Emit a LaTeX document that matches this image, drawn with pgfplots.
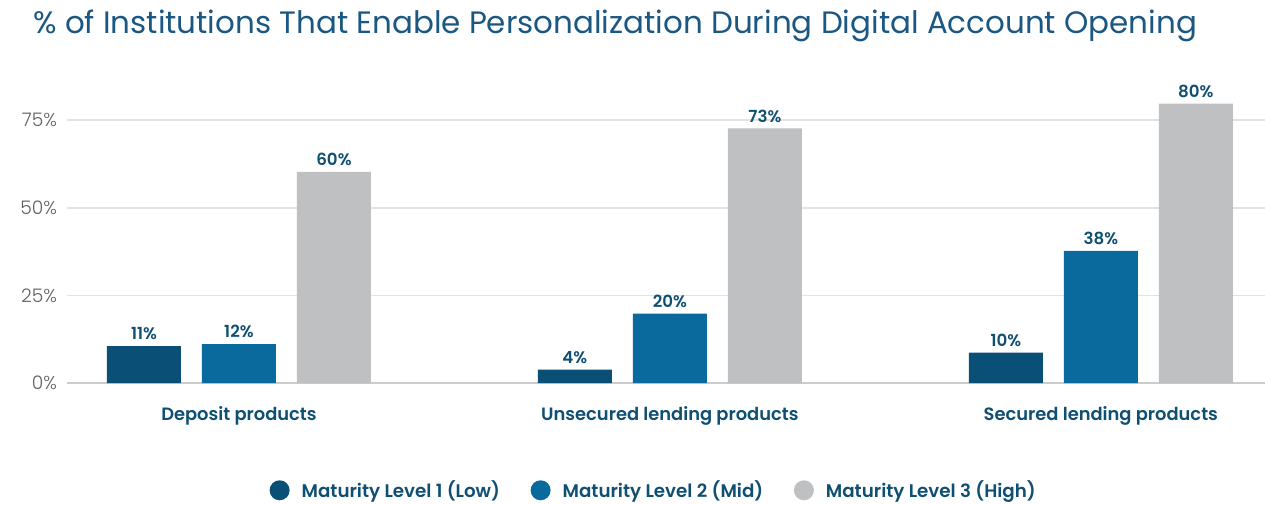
\documentclass[border=0pt]{standalone}
\usepackage{pgfplots}
\pgfplotsset{compat=1.18}
\usepackage{fontspec}
\setmainfont{Poppins}
\newfontfamily\semib{Poppins SemiBold}
\newfontfamily\lightf{Poppins Light}
\definecolor{lvlone}{HTML}{0A4F75}
\definecolor{lvltwo}{HTML}{0A6A9E}
\definecolor{lvlthree}{HTML}{BFC0C2}
\definecolor{txtblue}{HTML}{0E4F72}
\definecolor{titleblue}{HTML}{1A5783}
\definecolor{tickgray}{HTML}{5F6062}
\definecolor{gridgray}{HTML}{E3E3E3}

\begin{document}
\begin{tikzpicture}
% 1 px of the reference = 0.75pt
\path[use as bounding box] (-50.25pt,-90.75pt) rectangle (898.5pt,287.25pt);
\node[anchor=west, text=titleblue, font=\fontsize{23.2}{27}\selectfont, inner sep=0pt]
  at (-25.5pt,268pt) {\% of Institutions That Enable Personalization During Digital Account Opening};
\begin{axis}[
  anchor=south west, at={(0,0)},
  scale only axis, width=898.5pt, height=223.5pt,
  xmin=-0.399, xmax=2.381, ymin=0, ymax=85,
  ybar=15.75pt, bar width=55.5pt,
  axis line style={draw=none},
  major tick length=0pt,
  ytick={25,50,75},
  extra y ticks={0}, extra y tick labels={0\%},
  extra y tick style={grid style={draw=gridgray!90!black, line width=2.2pt}},
  /pgf/number format/assume math mode=true,
  yticklabel={\pgfmathprintnumber{\tick}\%},
  ymajorgrids, grid style={draw=gridgray, line width=1.2pt},
  yticklabel style={text=tickgray, font=\lightf\fontsize{14}{16}\selectfont, xshift=-4pt},
  xtick={0,1,2},
  xticklabels={Deposit products, Unsecured lending products, Secured lending products},
  xticklabel style={text=txtblue, font=\semib\fontsize{13.4}{16}\selectfont, yshift=-14pt},
  nodes near coords,
  point meta=explicit symbolic,
  every node near coord/.append style={text=txtblue, font=\semib\fontsize{12.5}{15}\selectfont, yshift=1pt},
  legend columns=3,
  legend style={draw=none, fill=none, at={(0.49,-0.36)}, anchor=center,
    font=\semib\fontsize{13.7}{16}\selectfont, text=txtblue,
    /tikz/every odd column/.append style={column sep=7pt},
    /tikz/every even column/.append style={column sep=21pt}},
]
\addplot[fill=lvlone, draw=none,
  legend image code/.code={\fill[lvlone] (0pt,0pt) circle (7.5pt);}]
  coordinates {(0,10.5)[11\%] (1,3.8)[4\%] (2,8.7)[10\%]};
\addplot[fill=lvltwo, draw=none,
  legend image code/.code={\fill[lvltwo] (0pt,0pt) circle (7.5pt);}]
  coordinates {(0,11.1)[12\%] (1,19.8)[20\%] (2,37.7)[38\%]};
\addplot[fill=lvlthree, draw=none,
  legend image code/.code={\fill[lvlthree] (0pt,0pt) circle (7.5pt);}]
  coordinates {(0,60.2)[60\%] (1,72.6)[73\%] (2,79.7)[80\%]};
\legend{Maturity Level 1 (Low), Maturity Level 2 (Mid)\hspace{24pt}, Maturity Level 3 (High)}
\end{axis}
\end{tikzpicture}
\end{document}
